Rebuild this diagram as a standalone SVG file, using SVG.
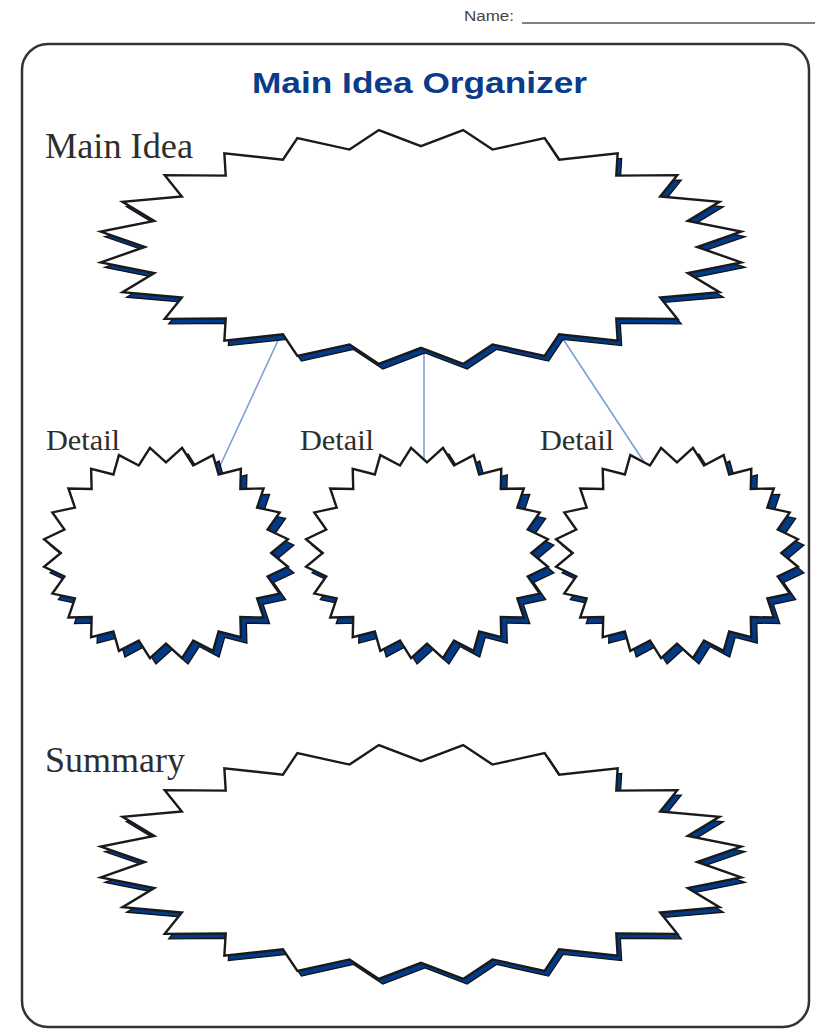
<svg xmlns="http://www.w3.org/2000/svg" width="815" height="1031" viewBox="0 0 815 1031">
<style>
.shadow{fill:#023a8a;stroke:#111;stroke-width:1.3}
.burst{fill:#fff;stroke:#1a1a1a;stroke-width:2.4}
.lbl{font-family:"Liberation Serif",serif;fill:#2e2e2e}
.conn{stroke:#7d9fd6;stroke-width:1.6;fill:none}
</style>
<defs>
<polygon id="seal24" vector-effect="non-scaling-stroke" stroke-linejoin="miter" points="0,-0.855 0.1305,-0.9914 0.2213,-0.8258 0.3827,-0.9239 0.4275,-0.7404 0.6088,-0.7934 0.6046,-0.6046 0.7934,-0.6088 0.7404,-0.4275 0.9239,-0.3827 0.8258,-0.2213 0.9914,-0.1305 0.855,0 0.9914,0.1305 0.8258,0.2213 0.9239,0.3827 0.7404,0.4275 0.7934,0.6088 0.6046,0.6046 0.6088,0.7934 0.4275,0.7404 0.3827,0.9239 0.2213,0.8258 0.1305,0.9914 0,0.855 -0.1305,0.9914 -0.2213,0.8258 -0.3827,0.9239 -0.4275,0.7404 -0.6088,0.7934 -0.6046,0.6046 -0.7934,0.6088 -0.7404,0.4275 -0.9239,0.3827 -0.8258,0.2213 -0.9914,0.1305 -0.855,0 -0.9914,-0.1305 -0.8258,-0.2213 -0.9239,-0.3827 -0.7404,-0.4275 -0.7934,-0.6088 -0.6046,-0.6046 -0.6088,-0.7934 -0.4275,-0.7404 -0.3827,-0.9239 -0.2213,-0.8258 -0.1305,-0.9914"/>
</defs>
<rect x="0" y="0" width="815" height="1031" fill="#fff"/>
<g id="name-field">
<text x="464" y="21" font-family="Liberation Sans, Arial, sans-serif" font-size="14" fill="#444" textLength="50" lengthAdjust="spacingAndGlyphs">Name:</text>
<line x1="522" y1="23" x2="815" y2="23" stroke="#555" stroke-width="1.5"/>
</g>
<rect id="frame" x="22" y="44" width="787" height="983" rx="26" fill="none" stroke="#333" stroke-width="2.5"/>
<text id="title" x="252" y="93" font-family="Liberation Sans, Arial, sans-serif" font-weight="bold" font-size="29" fill="#0b3c8c" textLength="335" lengthAdjust="spacingAndGlyphs">Main Idea Organizer</text>
<g id="connectors">
<line class="conn" x1="281" y1="334" x2="220" y2="466"/>
<line class="conn" x1="424" y1="345" x2="424" y2="466" stroke="#4f77bd" stroke-width="2"/>
<line class="conn" x1="561" y1="336" x2="648" y2="468"/>
</g>
<g id="main-idea">
<use href="#seal24" class="shadow" transform="translate(425,252) scale(323,118)"/>
<use href="#seal24" class="burst" transform="translate(421,247) scale(323,118)"/>
<text class="lbl" x="45" y="158" font-size="35" textLength="148" lengthAdjust="spacingAndGlyphs">Main Idea</text>
</g>
<g id="detail-1">
<use href="#seal24" class="shadow" transform="translate(172,559) scale(123,106)"/>
<use href="#seal24" class="burst" transform="translate(166,553) scale(123,106)"/>
<text class="lbl" x="46" y="450" font-size="30" textLength="74" lengthAdjust="spacingAndGlyphs">Detail</text>
</g>
<g id="detail-2">
<use href="#seal24" class="shadow" transform="translate(433,559) scale(122,106)"/>
<use href="#seal24" class="burst" transform="translate(427,553) scale(122,106)"/>
<text class="lbl" x="300" y="450" font-size="30" textLength="74" lengthAdjust="spacingAndGlyphs">Detail</text>
</g>
<g id="detail-3">
<use href="#seal24" class="shadow" transform="translate(683,559) scale(122,106)"/>
<use href="#seal24" class="burst" transform="translate(677,553) scale(122,106)"/>
<text class="lbl" x="540" y="450" font-size="30" textLength="74" lengthAdjust="spacingAndGlyphs">Detail</text>
</g>
<g id="summary">
<use href="#seal24" class="shadow" transform="translate(425,867) scale(323,118)"/>
<use href="#seal24" class="burst" transform="translate(421,862) scale(323,118)"/>
<text class="lbl" x="45" y="772" font-size="35" textLength="140" lengthAdjust="spacingAndGlyphs">Summary</text>
</g>
</svg>
